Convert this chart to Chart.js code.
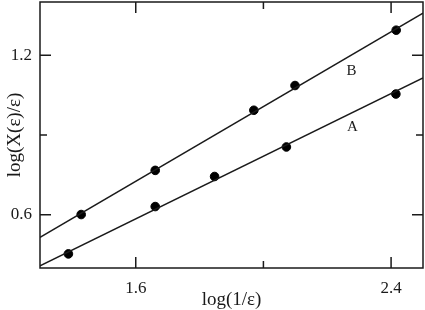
<!DOCTYPE html>
<html>
<head>
<meta charset="utf-8">
<script src="https://cdn.jsdelivr.net/npm/chart.js@4/dist/chart.umd.min.js"></script>
<style>
  html, body { margin: 0; padding: 0; background: #fff; }
  #wrap { width: 425px; height: 310px; }
</style>
</head>
<body>
<div id="wrap"><canvas id="c" width="425" height="310"></canvas></div>
<script>
// ---- data ----
const xA = [1.389, 1.661, 1.847, 2.072, 2.415];
const yA = [0.453, 0.631, 0.744, 0.855, 1.054];
const xB = [1.429, 1.661, 1.970, 2.099, 2.416];
const yB = [0.601, 0.767, 0.993, 1.086, 1.294];
const fitX = [1.3, 2.5];
const fitA = [0.408, 1.115];
const fitB = [0.515, 1.358];
const curveNames = ['A', 'B'];
const curveLabelX = [2.279, 2.276];
const curveLabelY = [0.930, 1.142];
const xTickValues = [1.6, 2.0, 2.4];
const xTickLabels = ['1.6', '', '2.4'];
const yTickValues = [0.6, 0.9, 1.2];
const yTickLabels = ['0.6', '', '1.2'];
const xRange = [1.3, 2.5];
const yRange = [0.4, 1.4];

const SERIF = '"Liberation Serif", "DejaVu Serif", serif';
const INK = '#1a1a1a';

const toPts = (xs, ys) => xs.map((x, i) => ({ x, y: ys[i] }));

const framePlugin = {
  id: 'frame',
  afterDatasetsDraw(chart) {
    const { ctx, chartArea: a, scales } = chart;
    ctx.save();
    ctx.strokeStyle = INK;
    ctx.lineWidth = 1.5;
    ctx.strokeRect(a.left, a.top, a.right - a.left, a.bottom - a.top);
    const major = 11, minor = 7;
    ctx.beginPath();
    xTickValues.forEach((v, i) => {
      const px = scales.x.getPixelForValue(v);
      const len = xTickLabels[i] ? major : minor;
      ctx.moveTo(px, a.bottom); ctx.lineTo(px, a.bottom - len);
      ctx.moveTo(px, a.top); ctx.lineTo(px, a.top + len);
    });
    yTickValues.forEach((v, i) => {
      const py = scales.y.getPixelForValue(v);
      const len = yTickLabels[i] ? major : minor;
      ctx.moveTo(a.left, py); ctx.lineTo(a.left + len, py);
      ctx.moveTo(a.right, py); ctx.lineTo(a.right - len, py);
    });
    ctx.stroke();
    // curve labels
    ctx.fillStyle = INK;
    ctx.font = '15px ' + SERIF;
    ctx.textAlign = 'center';
    ctx.textBaseline = 'middle';
    curveNames.forEach((n, i) => {
      ctx.fillText(n, scales.x.getPixelForValue(curveLabelX[i]), scales.y.getPixelForValue(curveLabelY[i]));
    });
    ctx.restore();
  }
};

const noPad = s => { s.paddingTop = 0; s.paddingBottom = 0; s.paddingLeft = 0; s.paddingRight = 0; };

new Chart(document.getElementById('c'), {
  type: 'scatter',
  data: {
    datasets: [
      { label: 'A fit', type: 'line', data: toPts(fitX, fitA), borderColor: INK, borderWidth: 1.5, pointRadius: 0, fill: false, tension: 0 },
      { label: 'B fit', type: 'line', data: toPts(fitX, fitB), borderColor: INK, borderWidth: 1.5, pointRadius: 0, fill: false, tension: 0 },
      { label: 'A', data: toPts(xA, yA), backgroundColor: '#000', borderColor: '#000', pointRadius: 4.3, showLine: false },
      { label: 'B', data: toPts(xB, yB), backgroundColor: '#000', borderColor: '#000', pointRadius: 4.3, showLine: false }
    ]
  },
  options: {
    responsive: false,
    animation: false,
    devicePixelRatio: 1,
    layout: { autoPadding: false, padding: { top: 2, right: 2, left: 0, bottom: 0 } },
    plugins: { legend: { display: false }, tooltip: { enabled: false } },
    scales: {
      x: {
        type: 'linear',
        min: xRange[0], max: xRange[1],
        afterFit: s => { s.height = 42; noPad(s); },
        afterBuildTicks: s => { s.ticks = xTickValues.map(v => ({ value: v })); },
        grid: { display: false, drawTicks: false },
        border: { display: false },
        ticks: {
          padding: 10, color: INK, maxRotation: 0, autoSkip: false,
          font: { family: SERIF, size: 17 },
          callback: (v, i) => xTickLabels[i]
        },
        title: {
          display: true, text: 'log(1/ε)', color: INK,
          font: { family: SERIF, size: 19, lineHeight: 1.05 },
          padding: { top: 0, bottom: 0 }
        }
      },
      y: {
        type: 'linear',
        min: yRange[0], max: yRange[1],
        afterFit: s => { s.width = 40; noPad(s); },
        afterBuildTicks: s => { s.ticks = yTickValues.map(v => ({ value: v })); },
        grid: { display: false, drawTicks: false },
        border: { display: false },
        ticks: {
          padding: 8, color: INK, autoSkip: false,
          font: { family: SERIF, size: 17 },
          callback: (v, i) => yTickLabels[i]
        },
        title: {
          display: true, text: 'log(X(ε)/ε)', color: INK,
          font: { family: SERIF, size: 19, lineHeight: 1.1 },
          padding: { top: 4.5, bottom: 0 }
        }
      }
    }
  },
  plugins: [framePlugin]
});
</script>
</body>
</html>
